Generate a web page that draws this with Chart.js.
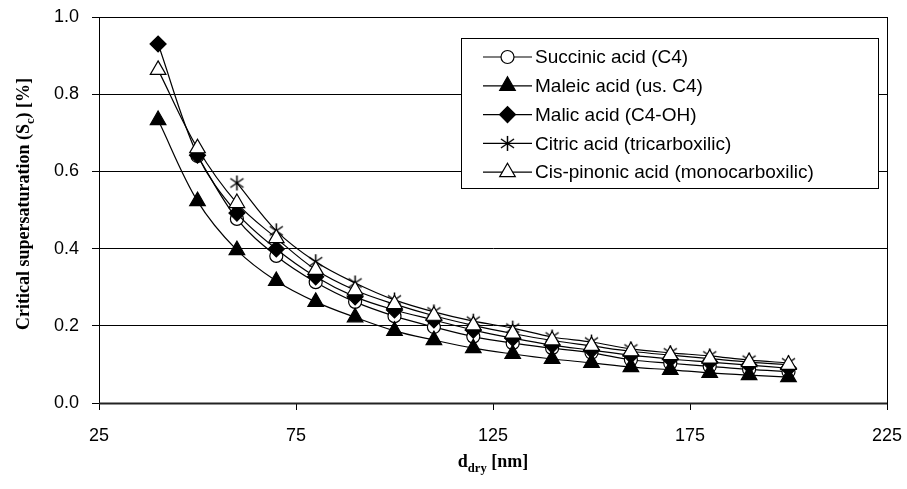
<!DOCTYPE html>
<html>
<head>
<meta charset="utf-8">
<title>Critical supersaturation vs dry diameter</title>
<script src="https://cdn.jsdelivr.net/npm/chart.js@4.4.1/dist/chart.umd.min.js"></script>
<style>
  html, body { margin: 0; padding: 0; background: #fff; }
  #wrap { width: 907px; height: 489px; position: relative; }
</style>
</head>
<body>
<div id="wrap"><canvas id="scChart"></canvas></div>
<script>
// dry particle diameter [nm]
const diameters = [40, 50, 60, 70, 80, 90, 100, 110, 120, 130, 140, 150, 160, 170, 180, 190, 200];

// critical supersaturation [%] per compound (null = not computed)
const succinic   = [null, 0.640, 0.477, 0.381, 0.313, 0.262, 0.225, 0.197, 0.172, 0.155, 0.142, 0.130, 0.112, 0.103, 0.095, 0.087, 0.081];
const maleic     = [0.733, 0.523, 0.396, 0.316, 0.262, 0.222, 0.187, 0.163, 0.142, 0.127, 0.114, 0.104, 0.093, 0.086, 0.078, 0.072, 0.067];
const malic      = [0.930, 0.642, 0.492, 0.399, 0.327, 0.275, 0.241, 0.215, 0.189, 0.168, 0.150, 0.137, 0.124, 0.114, 0.106, 0.098, 0.090];
const citric     = [null, null, 0.570, 0.446, 0.366, 0.311, 0.267, 0.236, 0.212, 0.194, 0.171, 0.158, 0.140, 0.130, 0.122, 0.111, 0.104];
const cisPinonic = [0.863, 0.660, 0.518, 0.427, 0.345, 0.292, 0.256, 0.226, 0.201, 0.180, 0.162, 0.148, 0.134, 0.124, 0.115, 0.106, 0.099];

const seriesLabels = [
  'Succinic acid (C4)',
  'Maleic acid (us. C4)',
  'Malic acid (C4-OH)',
  'Citric acid (tricarboxilic)',
  'Cis-pinonic acid (monocarboxilic)'
];

const xTicks = [25, 75, 125, 175, 225];
const yTicks = [0, 0.2, 0.4, 0.6, 0.8, 1.0];

const TICK_FONT = '"Liberation Sans", Arial, sans-serif';
const TITLE_FONT = '"Liberation Serif", "Times New Roman", serif';

// six-spoke asterisk marker (X plus vertical bar)
function makeAsterisk(size) {
  const c = document.createElement('canvas');
  c.width = size; c.height = size;
  const g = c.getContext('2d');
  const m = size / 2, r = size / 2 - 1;
  g.strokeStyle = '#000';
  g.lineWidth = 1.5;
  g.beginPath();
  g.moveTo(m, m - r); g.lineTo(m, m + r);
  g.moveTo(m - r * 0.87, m - r * 0.6); g.lineTo(m + r * 0.87, m + r * 0.6);
  g.moveTo(m + r * 0.87, m - r * 0.6); g.lineTo(m - r * 0.87, m + r * 0.6);
  g.stroke();
  return c;
}
const asterisk = makeAsterisk(17);

function toPoints(values) {
  const pts = [];
  values.forEach((v, i) => { if (v !== null) pts.push({ x: diameters[i], y: v }); });
  return pts;
}

const markerStyles = [
  { pointStyle: 'circle',   radius: 6.5, fill: '#fff' },
  { pointStyle: 'triangle', radius: 9,   fill: '#000' },
  { pointStyle: 'rectRot',  radius: 8,   fill: '#000' },
  { pointStyle: asterisk,   radius: 8,   fill: '#000' },
  { pointStyle: 'triangle', radius: 9,   fill: '#fff' }
];

const allSeries = [succinic, maleic, malic, citric, cisPinonic];

const datasets = allSeries.map((vals, i) => ({
  label: seriesLabels[i],
  data: toPoints(vals),
  borderColor: '#000',
  borderWidth: 1.2,
  tension: 0.35,
  fill: false,
  pointStyle: markerStyles[i].pointStyle,
  pointRadius: markerStyles[i].radius,
  pointBackgroundColor: markerStyles[i].fill,
  pointBorderColor: '#000',
  pointBorderWidth: 1.2,
  order: allSeries.length - i   // later series drawn on top
}));

// text with a subscript part, drawn left to right from x
function drawSubText(ctx, parts, x, y, size) {
  let cx = x;
  parts.forEach(p => {
    const s = p.sub ? size * 0.7 : size;
    ctx.font = 'bold ' + s + 'px ' + TITLE_FONT;
    ctx.fillText(p.text, cx, p.sub ? y + size * 0.3 : y);
    cx += ctx.measureText(p.text).width;
  });
}
function measureSubText(ctx, parts, size) {
  let w = 0;
  parts.forEach(p => {
    ctx.font = 'bold ' + (p.sub ? size * 0.7 : size) + 'px ' + TITLE_FONT;
    w += ctx.measureText(p.text).width;
  });
  return w;
}

const frameAndTitles = {
  id: 'frameAndTitles',
  afterDraw(chart) {
    const { ctx, chartArea: a } = chart;
    ctx.save();
    // plot frame
    ctx.strokeStyle = '#000';
    ctx.lineWidth = 1;
    ctx.strokeRect(Math.round(a.left) + 0.5, Math.round(a.top) + 0.5,
                   Math.round(a.right - a.left), Math.round(a.bottom - a.top));
    ctx.strokeStyle = '#222';
    ctx.lineWidth = 2;
    ctx.beginPath();
    ctx.moveTo(a.left, Math.round(a.bottom) + 0.5);
    ctx.lineTo(a.right, Math.round(a.bottom) + 0.5);
    ctx.stroke();

    ctx.fillStyle = '#000';
    ctx.textBaseline = 'alphabetic';
    // x title
    const xParts = [{ text: 'd' }, { text: 'dry', sub: true }, { text: ' [nm]' }];
    const xw = measureSubText(ctx, xParts, 18);
    drawSubText(ctx, xParts, (a.left + a.right) / 2 - xw / 2, 467, 18);
    // y title
    const yParts = [{ text: 'Critical supersaturation (S' }, { text: 'c', sub: true }, { text: ') [%]' }];
    const yw = measureSubText(ctx, yParts, 18);
    ctx.translate(29, (a.top + a.bottom) / 2 - 6);
    ctx.rotate(-Math.PI / 2);
    drawSubText(ctx, yParts, -yw / 2, 0, 18);
    ctx.restore();
  }
};

const boxedLegend = {
  id: 'boxedLegend',
  afterDatasetsDraw(chart) {
    const { ctx, chartArea: a } = chart;
    const right = a.right - 9, top = a.top + 21;
    const left = right - 417, height = 150;
    ctx.save();
    ctx.fillStyle = '#fff';
    ctx.fillRect(left, top, right - left, height);
    ctx.strokeStyle = '#000';
    ctx.lineWidth = 1;
    ctx.strokeRect(Math.round(left) + 0.5, Math.round(top) + 0.5, Math.round(right - left), height);

    ctx.font = '19px ' + TICK_FONT;
    ctx.textBaseline = 'middle';
    chart.data.datasets.forEach((ds, i) => {
      const y = top + 19 + i * 28.8;
      const x0 = left + 22, x1 = left + 71;
      ctx.strokeStyle = '#000';
      ctx.lineWidth = 1.2;
      ctx.beginPath();
      ctx.moveTo(x0, y); ctx.lineTo(x1, y);
      ctx.stroke();
      ctx.fillStyle = ds.pointBackgroundColor;
      ctx.strokeStyle = '#000';
      ctx.lineWidth = 1.2;
      Chart.helpers.drawPoint(ctx, {
        pointStyle: ds.pointStyle,
        radius: ds.pointRadius,
        rotation: 0,
        borderWidth: 1.2
      }, (x0 + x1) / 2, y);
      ctx.fillStyle = '#000';
      ctx.fillText(ds.label, x1 + 3, y + 1);
    });
    ctx.restore();
  }
};

new Chart(document.getElementById('scChart'), {
  type: 'line',
  data: { datasets },
  plugins: [boxedLegend, frameAndTitles],
  options: {
    responsive: true,
    maintainAspectRatio: false,
    animation: false,
    layout: { autoPadding: false, padding: { top: 17, right: 20, left: 0, bottom: 0 } },
    plugins: { legend: { display: false }, tooltip: { enabled: false } },
    scales: {
      x: {
        type: 'linear',
        min: xTicks[0],
        max: xTicks[xTicks.length - 1],
        afterBuildTicks: s => { s.ticks = xTicks.map(v => ({ value: v })); },
        afterFit: s => { s.height = 86; s.paddingLeft = 0; s.paddingRight = 0; },
        grid: { drawOnChartArea: false, drawTicks: true, tickLength: 7, color: '#000', lineWidth: 1 },
        border: { display: true, color: '#222', width: 1 },
        ticks: { color: '#000', padding: 15, font: { family: TICK_FONT, size: 18 } },
        title: { display: false }
      },
      y: {
        min: yTicks[0],
        max: yTicks[yTicks.length - 1],
        afterBuildTicks: s => { s.ticks = yTicks.map(v => ({ value: v })); },
        afterFit: s => { s.width = 99; s.paddingTop = 0; s.paddingBottom = 0; },
        grid: { drawTicks: true, tickLength: 7, color: '#000', lineWidth: 1 },
        border: { display: true, color: '#000', width: 1 },
        ticks: {
          color: '#000', padding: 13,
          font: { family: TICK_FONT, size: 18 },
          callback: v => Number(v).toFixed(1)
        },
        title: { display: false }
      }
    }
  }
});
</script>
</body>
</html>
